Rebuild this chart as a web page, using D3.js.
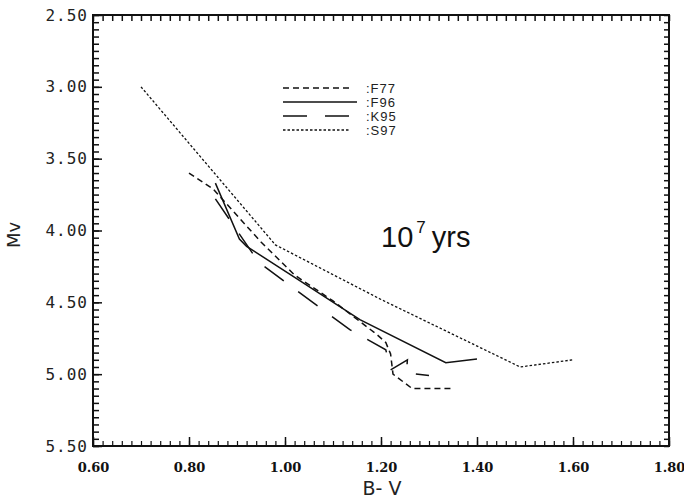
<!DOCTYPE html>
<html lang="en">
<head>
	<meta charset="utf-8">
	<title>Isochrones 10^7 yrs</title>
	<script src="https://d3js.org/d3.v7.min.js"></script>
	<style>
		body { margin: 0; background: #fff; }
		svg { display: block; }
	</style>
</head>
<body>
	<script>
		// series names, as in the legend
		var names = ["F77", "F96", "K95", "S97"];

		// B-V / Mv pairs
		var f77 = [[0.80, 3.60], [0.85, 3.71], [0.95, 4.08], [1.02, 4.31], [1.10, 4.49],
			[1.19, 4.72], [1.21, 4.78], [1.22, 4.86], [1.225, 5.00], [1.265, 5.10], [1.35, 5.10]];
		var f96 = [[0.855, 3.67], [0.905, 4.06], [0.92, 4.11], [1.017, 4.32], [1.156, 4.62],
			[1.335, 4.92], [1.40, 4.895]];
		var k95 = [[0.855, 3.78], [0.945, 4.22], [1.025, 4.42], [1.135, 4.69], [1.21, 4.83],
			[1.22, 4.97], [1.255, 4.90], [1.253, 4.99], [1.30, 5.01]];
		var s97 = [[0.70, 3.00], [0.98, 4.10], [1.20, 4.48], [1.49, 4.95], [1.60, 4.90]];

		var series = [f77, f96, k95, s97];

		// axis ticks
		var xMajor = [0.6, 0.8, 1.0, 1.2, 1.4, 1.6, 1.8];
		var yMajor = [2.5, 3.0, 3.5, 4.0, 4.5, 5.0, 5.5];
		var xMinor = d3.range(0, 61).map(function(i) { return 0.6 + i * 0.02; });
		var yMinor = d3.range(0, 61).map(function(i) { return 2.5 + i * 0.05; });

		var w = 684, h = 500;
		// plot box (note: "top" is taken by window.top, so prefix these)
		var plotL = 93, plotR = 669, plotT = 15, plotB = 446;

		var dashes = ["6,4", null, "24,18", "2.5,2"];

		var x = d3.scaleLinear().domain([0.6, 1.8]).range([plotL, plotR]);
		var y = d3.scaleLinear().domain([2.5, 5.5]).range([plotT, plotB]);

		var svg = d3.select("body").append("svg")
			.attr("width", w)
			.attr("height", h);

		svg.append("rect").attr("width", w).attr("height", h).attr("fill", "#fff");

		// curves
		var line = d3.line()
			.x(function(d) { return x(d[0]); })
			.y(function(d) { return y(d[1]); });

		svg.selectAll("path.curve")
			.data(series)
			.enter()
			.append("path")
			.attr("class", "curve")
			.attr("d", line)
			.attr("fill", "none")
			.attr("stroke", "#111")
			.attr("stroke-width", function(d, i) { return i == 3 ? 1.3 : 1.5; })
			.attr("stroke-dasharray", function(d, i) { return dashes[i]; });

		// axes: ticks point inwards
		function styleAxis(g) {
			g.select(".domain").remove();
			g.selectAll("line").attr("stroke", "#111").attr("stroke-width", 1.5);
		}

		svg.append("g").attr("transform", "translate(0," + plotB + ")")
			.call(d3.axisBottom(x).tickValues(xMinor).tickSize(-5).tickFormat(""))
			.call(styleAxis)
			.selectAll("line").attr("stroke-width", 1.2);
		svg.append("g").attr("transform", "translate(0," + plotB + ")")
			.call(d3.axisBottom(x).tickValues(xMajor).tickSize(-9).tickPadding(17).tickFormat(d3.format(".2f")))
			.call(styleAxis)
			.selectAll("text")
			.attr("font-family", "'DejaVu Serif', serif")
			.attr("font-weight", "bold")
			.attr("font-size", 13)
			.attr("fill", "#111");

		svg.append("g").attr("transform", "translate(0," + plotT + ")")
			.call(d3.axisTop(x).tickValues(xMinor).tickSize(-6).tickFormat(""))
			.call(styleAxis);

		svg.append("g").attr("transform", "translate(" + plotL + ",0)")
			.call(d3.axisLeft(y).tickValues(yMinor).tickSize(-6).tickFormat(""))
			.call(styleAxis);
		svg.append("g").attr("transform", "translate(" + plotL + ",0)")
			.call(d3.axisLeft(y).tickValues(yMajor).tickSize(-9).tickPadding(5).tickFormat(d3.format(".2f")))
			.call(styleAxis)
			.selectAll("text")
			.attr("font-family", "'DejaVu Sans Mono', monospace")
			.attr("font-size", 16)
			.attr("letter-spacing", 1)
			.attr("fill", "#222");

		svg.append("g").attr("transform", "translate(" + plotR + ",0)")
			.call(d3.axisRight(y).tickValues(yMinor).tickSize(-5).tickFormat(""))
			.call(styleAxis);

		// frame
		svg.append("rect")
			.attr("x", plotL).attr("y", plotT)
			.attr("width", plotR - plotL).attr("height", plotB - plotT)
			.attr("fill", "none")
			.attr("stroke", "#111")
			.attr("stroke-width", 2);

		// axis titles
		svg.append("text")
			.attr("x", 382).attr("y", 495)
			.attr("text-anchor", "middle")
			.attr("font-family", "'DejaVu Sans', sans-serif")
			.attr("font-size", 19)
			.attr("fill", "#222")
			.text("B- V");

		svg.append("text")
			.attr("transform", "translate(20,235) rotate(-90)")
			.attr("text-anchor", "middle")
			.attr("font-family", "'DejaVu Sans', sans-serif")
			.attr("font-size", 18)
			.attr("fill", "#222")
			.text("Mv");

		// legend
		var leg = svg.append("g");
		names.forEach(function(n, i) {
			var ly = 88 + i * 14;
			leg.append("line")
				.attr("x1", 283).attr("x2", i == 1 ? 357 : 350)
				.attr("y1", ly).attr("y2", ly)
				.attr("stroke", "#111")
				.attr("stroke-width", 1.5)
				.attr("stroke-dasharray", dashes[i]);
			leg.append("text")
				.attr("x", 366).attr("y", ly + 5)
				.attr("font-family", "'Liberation Sans', sans-serif")
				.attr("font-size", 13)
				.attr("letter-spacing", 1)
				.attr("fill", "#222")
				.text(":" + n);
		});

		// age annotation
		var age = svg.append("text")
			.attr("x", 381).attr("y", 247)
			.attr("font-family", "'Liberation Sans', sans-serif")
			.attr("font-size", 29)
			.attr("fill", "#111");
		age.append("tspan").text("10");
		age.append("tspan").attr("dy", -14).attr("dx", 3).attr("font-size", 17).text("7");
		age.append("tspan").attr("dy", 14).attr("dx", 6).text("yrs");
	</script>
</body>
</html>
